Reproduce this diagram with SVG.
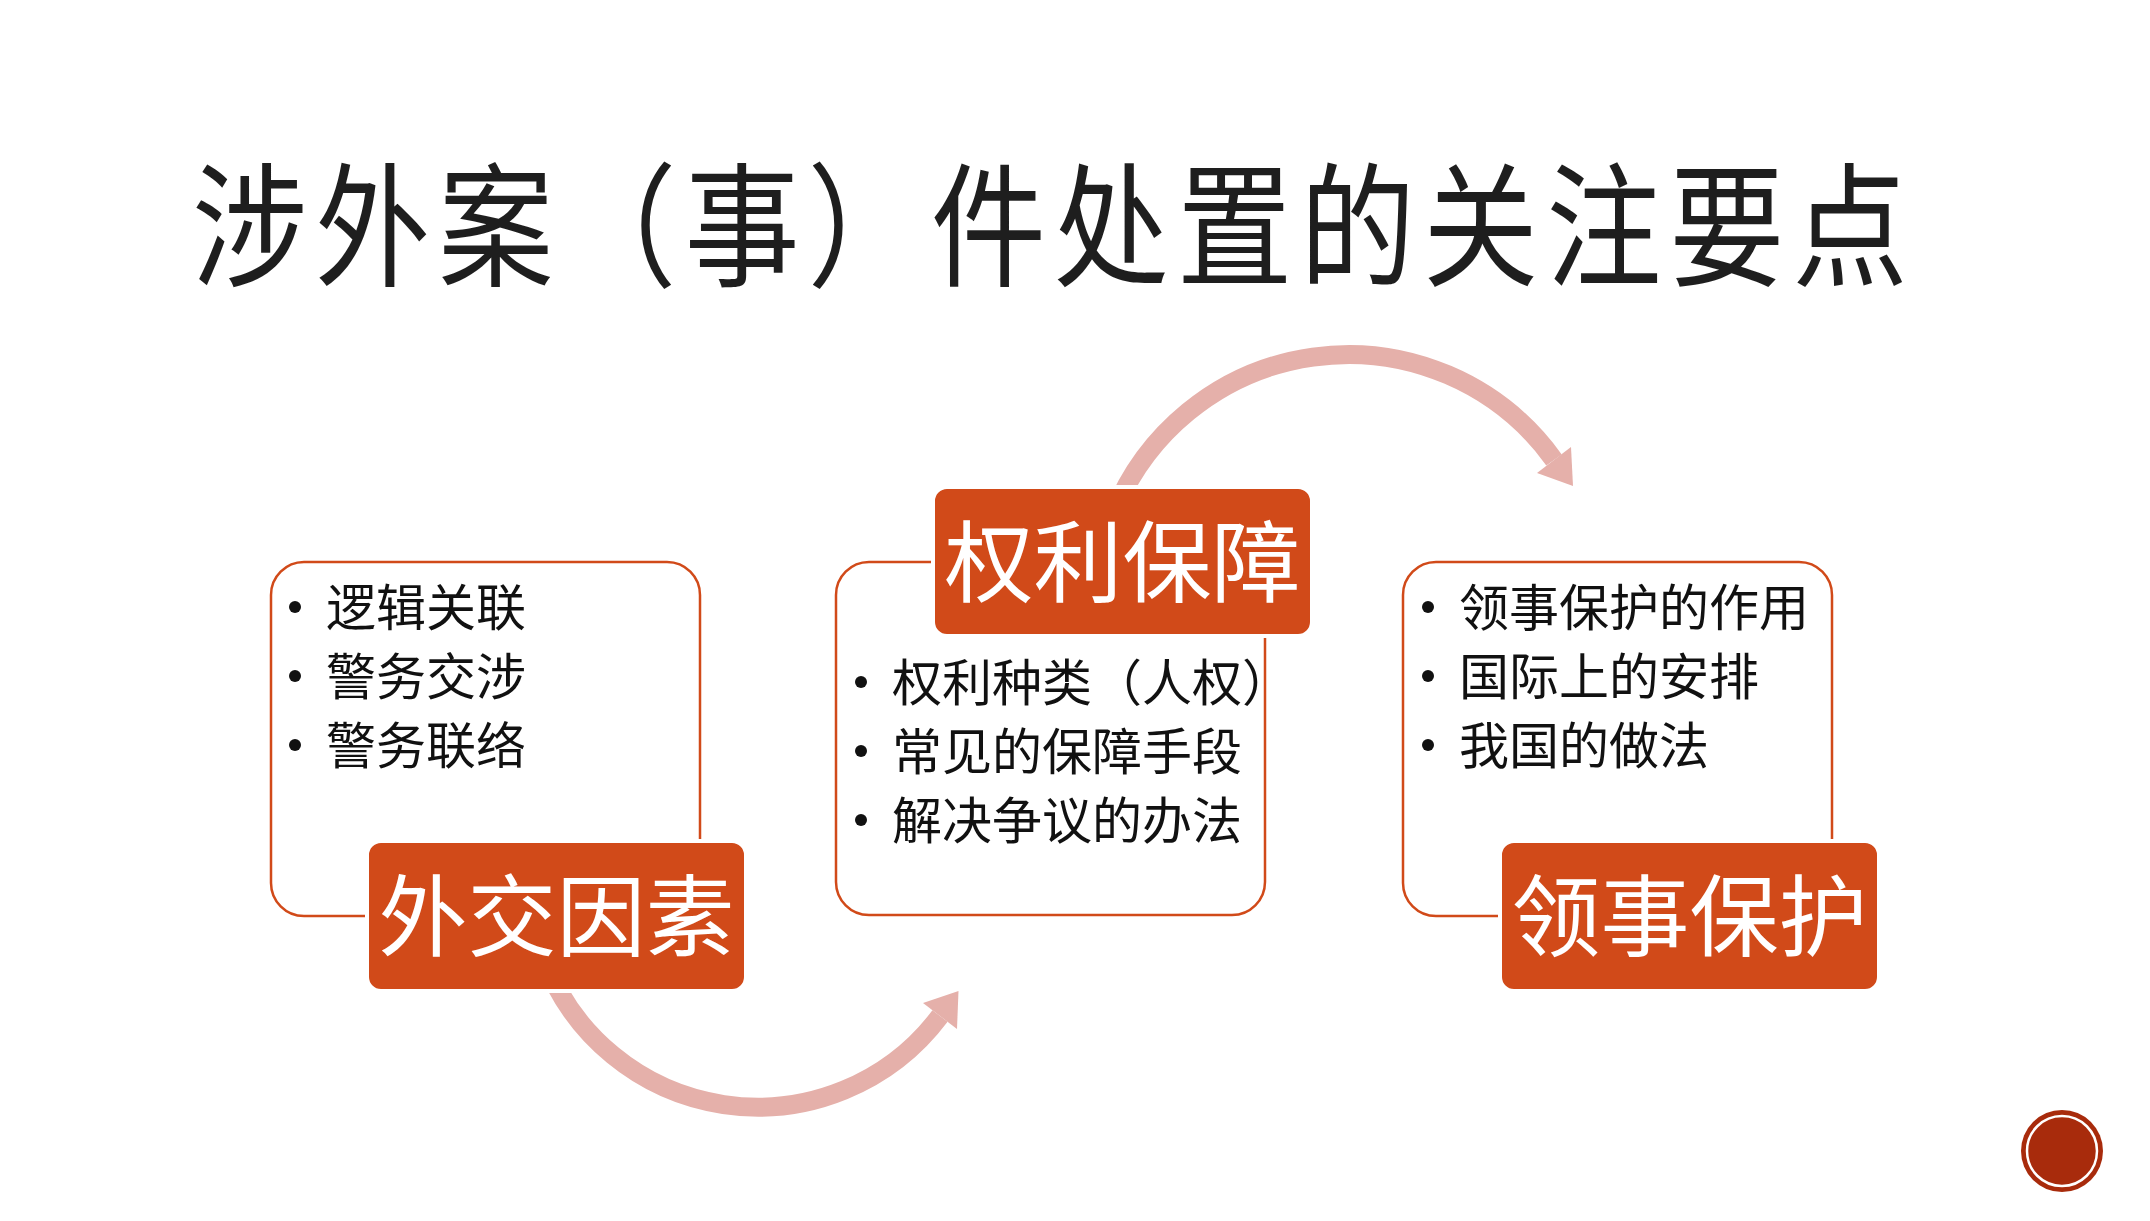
<svg xmlns="http://www.w3.org/2000/svg" width="2150" height="1221" viewBox="0 0 2150 1221">
  <style>
    .box { fill: #FFFFFF; stroke: #D14A19; stroke-width: 2.5; }
    .label { fill: #D14A19; stroke: #FFFFFF; stroke-width: 4; }
    .ltext { font-family: "Noto Sans CJK SC", "Noto Sans", sans-serif; font-size: 89px; fill: #FFFFFF; text-anchor: middle; }
    .btext { font-family: "Noto Sans CJK SC", "Noto Sans", sans-serif; font-size: 50px; fill: #111111; }
    .dot { fill: #111111; }
    .arc { fill: none; stroke: #E5B0AA; stroke-width: 19; }
    .head { fill: #E5B0AA; }
    .title { font-family: "Noto Sans CJK SC", "Noto Sans", sans-serif; font-size: 134px; fill: #1E1E1E; }
  </style>
  <rect x="0" y="0" width="2150" height="1221" fill="#FFFFFF"/>

  <g id="title">
    <text class="title" transform="translate(192,276) scale(0.86,1)" textLength="1995" lengthAdjust="spacing">涉外案（事）件处置的关注要点</text>
  </g>

  <g id="box-left">
    <rect class="box" x="271" y="562" width="429" height="354" rx="33"/>
  </g>
  <g id="box-middle">
    <rect class="box" x="836" y="562" width="429" height="353" rx="33"/>
  </g>
  <g id="box-right">
    <rect class="box" x="1403" y="562" width="429" height="354" rx="33"/>
  </g>

  <g id="connectors">
    <path class="arc" d="M 543 956 A 228 228 0 0 0 940 1016"/>
    <polygon class="head" points="923,1003 958.5,991 957,1029"/>
    <path class="arc" d="M 1110 523 A 253 253 0 0 1 1554 460"/>
    <polygon class="head" points="1537,473 1571,447 1573,486"/>
  </g>

  <g id="node-waijiao">
    <rect class="label" x="367" y="841" width="379" height="150" rx="14"/>
    <text class="ltext" x="556.5" y="949">外交因素</text>
    <circle class="dot" cx="295" cy="607" r="6"/>
    <text class="btext" x="326" y="626">逻辑关联</text>
    <circle class="dot" cx="295" cy="676" r="6"/>
    <text class="btext" x="326" y="695">警务交涉</text>
    <circle class="dot" cx="295" cy="745" r="6"/>
    <text class="btext" x="326" y="764">警务联络</text>
  </g>

  <g id="node-quanli">
    <rect class="label" x="933" y="487" width="379" height="149" rx="14"/>
    <text class="ltext" x="1122.5" y="595">权利保障</text>
    <circle class="dot" cx="861" cy="682" r="6"/>
    <text class="btext" x="892" y="701">权利种类（人权）</text>
    <circle class="dot" cx="861" cy="751" r="6"/>
    <text class="btext" x="892" y="770">常见的保障手段</text>
    <circle class="dot" cx="861" cy="820" r="6"/>
    <text class="btext" x="892" y="839">解决争议的办法</text>
  </g>

  <g id="node-lingshi">
    <rect class="label" x="1500" y="841" width="379" height="150" rx="14"/>
    <text class="ltext" x="1689.5" y="949">领事保护</text>
    <circle class="dot" cx="1428" cy="607" r="6"/>
    <text class="btext" x="1459" y="626">领事保护的作用</text>
    <circle class="dot" cx="1428" cy="676" r="6"/>
    <text class="btext" x="1459" y="695">国际上的安排</text>
    <circle class="dot" cx="1428" cy="745" r="6"/>
    <text class="btext" x="1459" y="764">我国的做法</text>
  </g>

  <g id="page-badge">
    <circle cx="2062" cy="1151" r="41" fill="#A82B0C"/>
    <circle cx="2062" cy="1151" r="35" fill="none" stroke="#FFFFFF" stroke-width="2.5"/>
  </g>
</svg>
